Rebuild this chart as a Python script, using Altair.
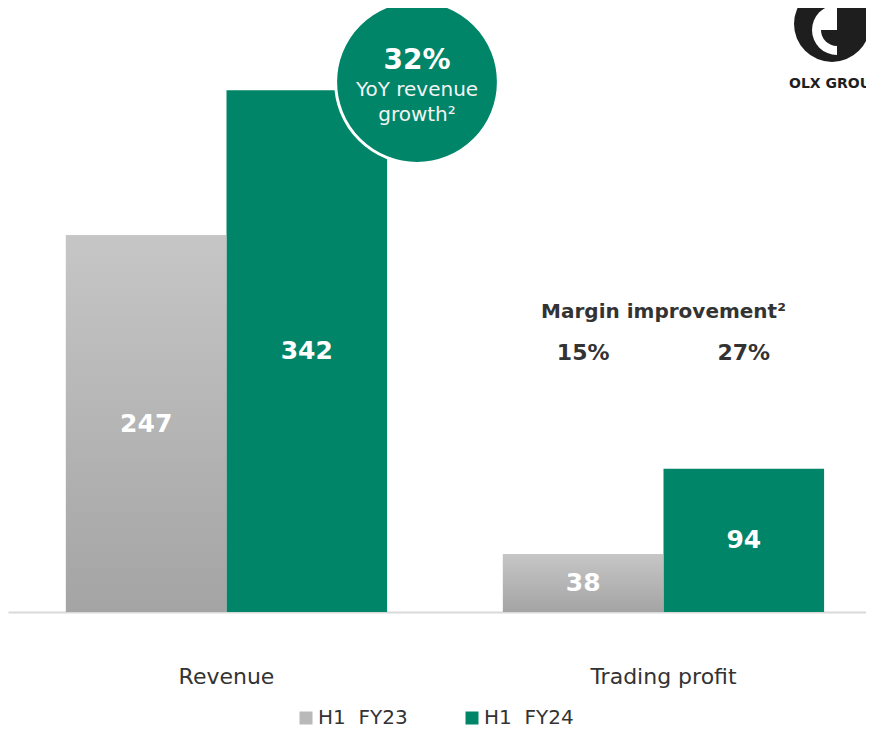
import altair as alt
import pandas as pd
import numpy as np

categories = ["Revenue", "Trading profit"]
series = ["H1\u00a0\u00a0FY23", "H1\u00a0\u00a0FY24"]
fy23_values = [247, 38]
fy24_values = [342, 94]
margins_fy23 = ["", "15%"]
margins_fy24 = ["", "27%"]
callout = ["32%", "YoY revenue", "growth\u00b2"]
margin_title = "Margin improvement\u00b2"
logo_text = "OLX GROUP"

GREEN = "#008569"
GREY = "#b9b9b9"
TXT = "#333333"
FONT = "DejaVu Sans"

rows = []
for i, c in enumerate(categories):
    rows.append({"category": c, "series": series[0], "value": fy23_values[i], "margin": margins_fy23[i]})
    rows.append({"category": c, "series": series[1], "value": fy24_values[i], "margin": margins_fy24[i]})
df = pd.DataFrame(rows)

xscale = alt.Scale(domain=categories, range=[0, 874], paddingInner=0.265, paddingOuter=0.1325)
yscale = alt.Scale(domain=[0, 396], nice=False)
xoff = alt.XOffset("series:N", scale=alt.Scale(domain=series, paddingInner=0, paddingOuter=0))

x_enc = alt.X("category:N", scale=xscale, sort=categories,
              axis=alt.Axis(title=None, labelAngle=0, ticks=False, domainColor="#d9d9d9",
                            domainWidth=2, labelFontSize=22, labelColor=TXT, labelFont=FONT,
                            labelPadding=54, labelBaseline="top"))
y_enc = alt.Y("value:Q", scale=yscale, axis=None)

base = alt.Chart(df)

bars = base.mark_bar().encode(
    x=x_enc, xOffset=xoff, y=y_enc,
    color=alt.Color("series:N", scale=alt.Scale(domain=series, range=[GREY, GREEN]),
                    legend=alt.Legend(title=None, orient="none", legendX=288, legendY=700,
                                      direction="horizontal", symbolType="square",
                                      symbolSize=169, symbolStrokeWidth=0, labelFontSize=20,
                                      labelColor=TXT, labelFont=FONT, labelOffset=2,
                                      columnPadding=54, padding=0)),
)

grad = alt.Gradient(gradient="linear",
                    stops=[alt.GradientStop(color="#c6c6c6", offset=0),
                           alt.GradientStop(color="#a4a4a4", offset=1)],
                    x1=0, x2=0, y1=0, y2=1)
grey_overlay = base.transform_filter(alt.datum.series == series[0]).mark_bar(color=grad).encode(
    x=alt.X("category:N", scale=xscale, sort=categories), xOffset=xoff, y=y_enc)

labels = base.transform_calculate(mid="datum.value / 2").mark_text(
    color="white", font=FONT, fontWeight="bold", fontSize=25, baseline="middle").encode(
    x=alt.X("category:N", scale=xscale, sort=categories), xOffset=xoff,
    y=alt.Y("mid:Q", scale=yscale), text="value:Q")

margin_lbl = base.transform_filter(alt.datum.margin != "").mark_text(
    color=TXT, font=FONT, fontWeight="bold", fontSize=22, baseline="middle").encode(
    x=alt.X("category:N", scale=xscale, sort=categories), xOffset=xoff,
    y=alt.value(345), text="margin:N")

mt_df = pd.DataFrame({"category": [categories[1]], "t": [margin_title]})
margin_title_lbl = alt.Chart(mt_df).mark_text(
    color=TXT, font=FONT, fontWeight="bold", fontSize=20, baseline="middle").encode(
    x=alt.X("category:N", scale=xscale, sort=categories), y=alt.value(304), text="t:N")

one = pd.DataFrame({"a": [0]})
circle = alt.Chart(one).mark_point(shape="circle", filled=True, size=26500, color=GREEN,
                                   stroke="white", strokeWidth=3, opacity=1).encode(
    x=alt.value(409), y=alt.value(74))

c_df = pd.DataFrame({"t": callout, "yy": [53, 82, 107]})
c_text1 = alt.Chart(c_df.iloc[[0]]).mark_text(color="white", font=FONT, fontWeight="bold",
                                             fontSize=28, baseline="middle").encode(
    x=alt.value(409), y=alt.Y("yy:Q", scale=None), text="t:N")
c_text2 = alt.Chart(c_df.iloc[1:]).mark_text(color="#f4f4f4", font=FONT, fontSize=20,
                                            baseline="middle").encode(
    x=alt.value(409), y=alt.Y("yy:Q", scale=None), text="t:N")

logo_outer = alt.Chart(one).mark_arc(color="#1e1e1e", theta=0, theta2=2 * np.pi, radius=38).encode(
    x=alt.value(824), y=alt.value(16))
logo_white = alt.Chart(one).mark_arc(color="white", theta=np.pi, theta2=2 * np.pi, radius=25).encode(
    x=alt.value(829), y=alt.value(22))
logo_quarter = alt.Chart(one).mark_arc(color="#1e1e1e", theta=np.pi, theta2=1.5 * np.pi, radius=16).encode(
    x=alt.value(829), y=alt.value(22))
l_df = pd.DataFrame({"t": [logo_text]})
logo_txt = alt.Chart(l_df).mark_text(color="#1e1e1e", font=FONT, fontWeight="bold", fontSize=14,
                                     align="left", baseline="middle").encode(
    x=alt.value(781), y=alt.value(76), text="t:N")

chart = alt.layer(
    bars, grey_overlay, labels, margin_lbl, margin_title_lbl,
    circle, c_text1, c_text2,
    logo_outer, logo_white, logo_quarter, logo_txt,
).properties(
    width=858, height=604,
    autosize=alt.AutoSizeParams(type="none"),
    padding={"left": 0, "top": 0, "right": 0, "bottom": 118},
).configure_view(strokeWidth=0)

chart.save("out.html", embed_options={"renderer": "svg", "actions": False})
